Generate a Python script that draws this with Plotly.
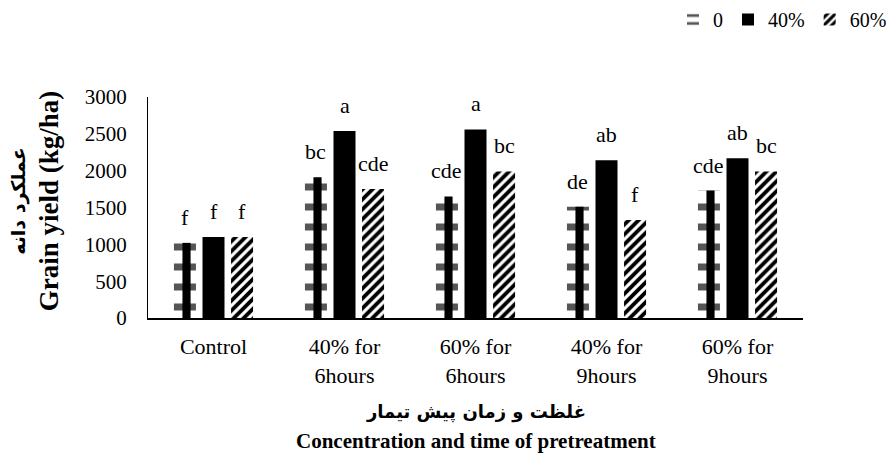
import plotly.graph_objects as go

# Treatments (concentration and duration of pretreatment)
categories = ["Control", "40% for<br>6hours", "60% for<br>6hours", "40% for<br>9hours", "60% for<br>9hours"]

# Grain yield (kg/ha) by series
series_names = ["0", "40%", "60%"]
yield_0 = [1020, 1910, 1650, 1510, 1730]
yield_40 = [1100, 2540, 2560, 2140, 2170]
yield_60 = [1100, 1750, 1990, 1330, 1990]

# Mean-separation letters
letters_0 = ["f", "bc", "cde", "de", "cde"]
letters_40 = ["f", "a", "a", "ab", "ab"]
letters_60 = ["f", "cde", "bc", "f", "bc"]

y_ticks = [0, 500, 1000, 1500, 2000, 2500, 3000]

FONT = "Liberation Serif, Times New Roman, DejaVu Serif, serif"
AR_FONT = "DejaVu Sans, Liberation Serif, serif"

W, H = 892, 466
MARGIN = dict(l=148, r=89, t=97, b=148)

# bar geometry in category units
SLOT = 0.218
BAR_W = 0.168
STRIPE_W = 0.062
cat_px = (W - MARGIN["l"] - MARGIN["r"]) / len(categories)

fig = go.Figure()

# series "0": banded bar with a black centre stripe
fig.add_trace(go.Bar(
    name=series_names[0], x=categories, y=yield_0,
    width=BAR_W, offset=-SLOT - BAR_W / 2,
    marker=dict(color="white", line=dict(width=0),
                pattern=dict(shape="-", fgcolor="#555555", bgcolor="white",
                             fgopacity=1, size=20, solidity=0.35)),
    hoverinfo="skip", legendrank=1,
))
fig.add_trace(go.Bar(
    name=series_names[0], x=categories, y=yield_0,
    width=STRIPE_W, offset=-SLOT - STRIPE_W / 2 + 0.012,
    marker=dict(color="black", line=dict(width=0)),
    showlegend=False, hoverinfo="skip",
))

# series "40%": solid black
fig.add_trace(go.Bar(
    name=series_names[1], x=categories, y=yield_40,
    width=BAR_W, offset=-BAR_W / 2,
    marker=dict(color="black", line=dict(width=0)),
    hoverinfo="skip", legendrank=2,
))

# series "60%": bold diagonal hatching
fig.add_trace(go.Bar(
    name=series_names[2], x=categories, y=yield_60,
    width=BAR_W, offset=SLOT - BAR_W / 2,
    marker=dict(color="white", line=dict(width=0),
                pattern=dict(shape="/", fgcolor="black", bgcolor="white",
                             fgopacity=1, size=7, solidity=0.55)),
    hoverinfo="skip", legendrank=3,
))

# letters above each bar
letter_annotations = []
for shift, vals, labs in zip((-SLOT, 0.0, SLOT), (yield_0, yield_40, yield_60),
                             (letters_0, letters_40, letters_60)):
    for cat, v, lab in zip(categories, vals, labs):
        letter_annotations.append(dict(
            x=cat, y=v, xref="x", yref="y", text=lab, showarrow=False,
            xanchor="center", yanchor="bottom",
            xshift=shift * cat_px, yshift=11,
            font=dict(family=FONT, size=22, color="black"),
        ))

title_annotations = [
    dict(text="<b>عملکرد دانه</b>", xref="paper", yref="paper",
         x=-0.197, y=0.53, xanchor="center", yanchor="middle", textangle=-90,
         showarrow=False, font=dict(family=AR_FONT, size=19)),
    dict(text="<b>Grain yield (kg/ha)</b>", xref="paper", yref="paper",
         x=-0.152, y=0.53, xanchor="center", yanchor="middle", textangle=-90,
         showarrow=False, font=dict(family=FONT, size=27)),
    dict(text="<b>غلظت و زمان پیش تیمار</b>", xref="paper", yref="paper",
         x=0.5, y=-0.425, xanchor="center", yanchor="middle",
         showarrow=False, font=dict(family=AR_FONT, size=18)),
    dict(text="<b>Concentration and time of pretreatment</b>", xref="paper", yref="paper",
         x=0.5, y=-0.555, xanchor="center", yanchor="middle",
         showarrow=False, font=dict(family=FONT, size=21)),
]

fig.update_layout(
    width=W,
    height=H,
    margin=MARGIN,
    paper_bgcolor="white",
    plot_bgcolor="white",
    barmode="overlay",
    font=dict(family=FONT, size=22, color="black"),
    showlegend=True,
    legend=dict(
        orientation="h",
        xref="container", yref="container",
        x=1.0, xanchor="right",
        y=1.0, yanchor="top",
        font=dict(family=FONT, size=20),
        itemwidth=30,
        bgcolor="rgba(0,0,0,0)",
    ),
    xaxis=dict(
        showline=True, linecolor="black", linewidth=1.5,
        ticks="", showgrid=False, zeroline=False,
        tickfont=dict(family=FONT, size=22),
        ticklabelstandoff=8,
    ),
    yaxis=dict(
        range=[0, 3000], tickvals=y_ticks,
        showline=True, linecolor="black", linewidth=1.2,
        ticks="", showgrid=False, zeroline=False,
        tickfont=dict(family=FONT, size=21),
        ticklabelstandoff=16,
    ),
    annotations=letter_annotations + title_annotations,
)

fig.write_html("out.html")
